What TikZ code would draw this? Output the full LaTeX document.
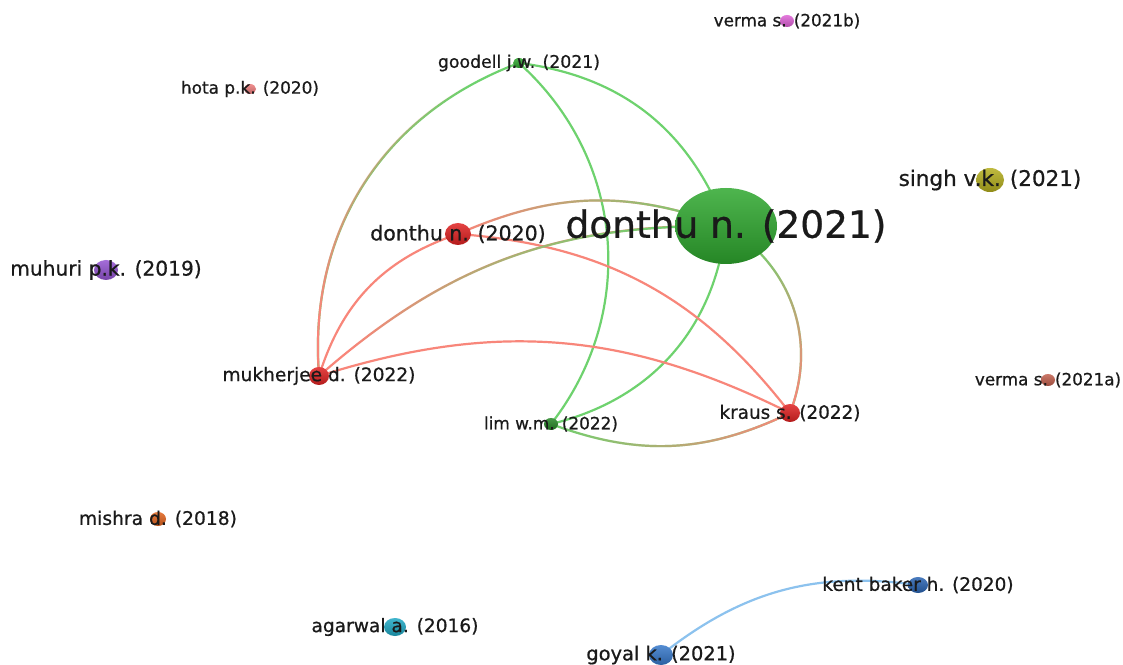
\documentclass[tikz,border=0pt]{standalone}
\usepackage{fontspec}
\setmainfont[FakeBold=0.7]{DejaVu Sans}
\usepackage{tikz}
\usetikzlibrary{shapes.geometric,fadings,backgrounds}
\definecolor{vgreen}{HTML}{2FA82F}
\definecolor{vred}{HTML}{E02222}
\definecolor{vsalmon}{HTML}{EE7C7C}
\definecolor{vpink}{HTML}{DE62D6}
\definecolor{volive}{HTML}{B4AE1E}
\definecolor{vpurple}{HTML}{9454D2}
\definecolor{vbrown}{HTML}{C2604E}
\definecolor{vorange}{HTML}{E2641E}
\definecolor{vnavy}{HTML}{2A64B2}
\definecolor{vblue}{HTML}{3678CA}
\definecolor{vcyan}{HTML}{1FA8C4}
\definecolor{greenlink}{HTML}{6ED26E}
\definecolor{redlink}{HTML}{F8867A}
\definecolor{bluelink}{HTML}{8CC2EE}
\definecolor{lbltext}{HTML}{1A1A1A}
\begin{document}
\begin{tikzpicture}[x=1pt,y=1pt,
 dot/.style={ellipse,draw=none,inner sep=0,top color=#1!85!white,bottom color=#1!80!black},
 lbl/.style={font=\fontsize{#1}{#1}\selectfont,text=lbltext,inner sep=0},
 link/.style={draw=#1,line width=2.2pt},
 mixlink/.style n args={3}{link=#1,postaction={draw=#2,path fading=west,fading angle=#3}}]
\useasboundingbox (0,0) rectangle (1123,664);
% documents
\node[dot=vgreen,minimum width=102,minimum height=76] (donthu21) at (726,438) {};
\node[dot=vgreen,minimum width=12,minimum height=10] (goodell) at (519,601) {};
\node[dot=vpink,minimum width=14,minimum height=12] (vermab) at (787,643) {};
\node[dot=vsalmon,minimum width=12,minimum height=10] (hota) at (250,575) {};
\node[dot=volive,minimum width=28,minimum height=24] (singh) at (990,484) {};
\node[dot=vred,minimum width=26,minimum height=22] (donthu20) at (458,430) {};
\node[dot=vpurple,minimum width=24,minimum height=20] (muhuri) at (106,394) {};
\node[dot=vred,minimum width=20,minimum height=18] (mukherjee) at (319,288) {};
\node[dot=vbrown,minimum width=14,minimum height=12] (vermaa) at (1048,284) {};
\node[dot=vgreen!80!black,minimum width=14,minimum height=12] (lim) at (551,240) {};
\node[dot=vred,minimum width=20,minimum height=18] (kraus) at (790,251) {};
\node[dot=vorange,minimum width=16,minimum height=14] (mishra) at (158,145) {};
\node[dot=vnavy,minimum width=20,minimum height=16] (kent) at (918,79) {};
\node[dot=vcyan,minimum width=22,minimum height=18] (agarwal) at (395,37) {};
\node[dot=vblue,minimum width=24,minimum height=20] (goyal) at (661,9) {};
% citation links
\begin{scope}[on background layer]
\fill[white] (0,0) rectangle (1123,664);
\draw[mixlink={greenlink}{redlink}{237}] (goodell.center) to[bend right=37] (mukherjee.center);
\draw[link=greenlink] (goodell.center) to[bend left=31] (donthu21.center);
\draw[link=greenlink] (goodell.center) to[bend left=43] (lim.center);
\draw[link=greenlink] (donthu21.center) to[bend left=35] (lim.center);
\draw[mixlink={greenlink}{redlink}{3}] (lim.center) to[bend right=23] (kraus.center);
\draw[mixlink={greenlink}{redlink}{-71}] (donthu21.center) to[bend left=40] (kraus.center);
\draw[link=redlink] (donthu20.center) to[bend left=24] (kraus.center);
\draw[link=redlink] (mukherjee.center) to[bend left=22] (kraus.center);
\draw[link=redlink] (mukherjee.center) to[bend left=27] (donthu20.center);
\draw[mixlink={redlink}{greenlink}{20}] (mukherjee.center) to[bend left=21] (donthu21.center);
\draw[mixlink={redlink}{greenlink}{2}] (donthu20.center) to[bend left=22] (donthu21.center);
\draw[link=bluelink] (goyal.center) to[bend left=23] (kent.center);
\end{scope}
% labels
\node[lbl=37.5] (donthu21-l) at (donthu21) {donthu n. (2021)};
\node[lbl=17.3] (goodell-l) at (goodell) {goodell j.w. (2021)};
\node[lbl=16.8] (vermab-l) at (vermab) {verma s. (2021b)};
\node[lbl=16.9] (hota-l) at (hota) {hota p.k. (2020)};
\node[lbl=21.5] (singh-l) at (singh) {singh v.k. (2021)};
\node[lbl=20.5] (donthu20-l) at (donthu20) {donthu n. (2020)};
\node[lbl=20.2] (muhuri-l) at (muhuri) {muhuri p.k. (2019)};
\node[lbl=18.6] (mukherjee-l) at (mukherjee) {mukherjee d. (2022)};
\node[lbl=16.8] (vermaa-l) at (vermaa) {verma s. (2021a)};
\node[lbl=16.9] (lim-l) at (lim) {lim w.m. (2022)};
\node[lbl=18.4] (kraus-l) at (kraus) {kraus s. (2022)};
\node[lbl=18.7] (mishra-l) at (mishra) {mishra d. (2018)};
\node[lbl=18.5] (kent-l) at (kent) {kent baker h. (2020)};
\node[lbl=18.6] (agarwal-l) at (agarwal) {agarwal a. (2016)};
\node[lbl=19.4] (goyal-l) at (goyal) {goyal k. (2021)};
\end{tikzpicture}
\end{document}
